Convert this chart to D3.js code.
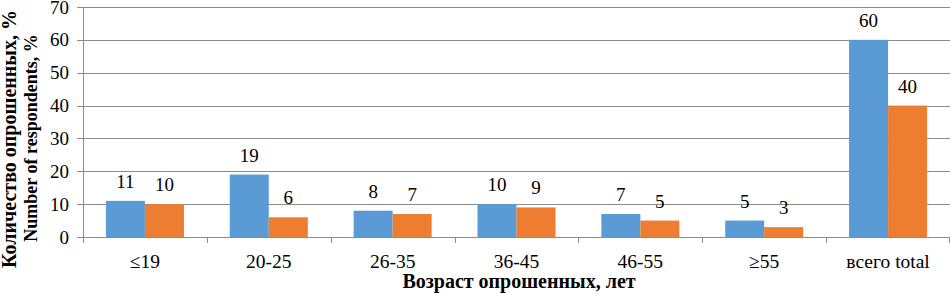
<!DOCTYPE html>
<html>
<head>
<meta charset="UTF-8">
<title>Возраст опрошенных</title>
<script src="https://d3js.org/d3.v7.min.js"></script>
<style>
    body { margin: 0; background: #fff; }
    .grid line { stroke: #8c8c8c; stroke-width: 1; shape-rendering: crispEdges; }
    .axis path, .axis line { stroke: #8c8c8c; shape-rendering: crispEdges; }
</style>
</head>
<body>
<svg></svg>
<script>
    var categories = ["\u226419", "20-25", "26-35", "36-45", "46-55", "\u226555", "всего total"];
    var series1 = [11, 19, 8, 10, 7, 5, 60];
    var series2 = [10, 6, 7, 9, 5, 3, 40];
    var yTicks = [0, 10, 20, 30, 40, 50, 60, 70];
    var colors = ["#5b9bd5", "#ed7d31"];
    var fontName = "'Liberation Serif'";

    var w = 951, h = 293;
    var padding = { top: 7, right: 1, bottom: 56, left: 83 };

    var svg = d3.select("svg").attr("width", w).attr("height", h);

    var x = d3.scaleBand().domain(categories).range([padding.left, w - padding.right]);
    var y = d3.scaleLinear().domain([0, 70]).range([h - padding.bottom, padding.top]);

    // gridlines
    svg.append("g").attr("class", "grid")
        .selectAll("line").data(yTicks.slice(1)).enter().append("line")
        .attr("x1", padding.left).attr("x2", w - padding.right)
        .attr("y1", d => Math.round(y(d)) + 0.5).attr("y2", d => Math.round(y(d)) + 0.5);

    // y axis
    var yAxis = d3.axisLeft(y).tickValues(yTicks).tickSize(6).tickPadding(8);
    var gy = svg.append("g").attr("class", "axis")
        .attr("transform", "translate(" + padding.left + ",0)")
        .call(yAxis);
    gy.selectAll("text").style("font-family", fontName).style("font-size", "19px");

    var bw = x.bandwidth() * 0.315;
    var data = categories.map((c, i) => ({ c: c, v: [series1[i], series2[i]] }));

    var groups = svg.append("g").selectAll("g").data(data).enter().append("g");
    [0, 1].forEach(k => {
        groups.append("rect")
            .attr("x", d => x(d.c) + x.bandwidth() / 2 - bw + k * bw)
            .attr("y", d => y(d.v[k]))
            .attr("width", bw)
            .attr("height", d => y(0) - y(d.v[k]))
            .attr("fill", colors[k]);
        groups.append("text")
            .attr("x", d => x(d.c) + x.bandwidth() / 2 - bw / 2 + k * bw)
            .attr("y", d => y(d.v[k]) - 13)
            .attr("text-anchor", "middle")
            .style("font-family", fontName)
            .style("font-size", "19px")
            .text(d => d.v[k]);
    });

    // x axis
    var xAxis = d3.axisBottom(x).tickSize(0).tickPadding(17);
    var gx = svg.append("g").attr("class", "axis")
        .attr("transform", "translate(0," + (y(0)) + ")")
        .call(xAxis);
    gx.select(".domain").remove();
    gx.append("line").attr("x1", padding.left).attr("x2", w - padding.right)
        .attr("y1", 0.5).attr("y2", 0.5);
    gx.selectAll(".sep").data(categories).enter().append("line")
        .attr("x1", d => Math.round(x(d)) + 0.5).attr("x2", d => Math.round(x(d)) + 0.5)
        .attr("y1", 0).attr("y2", 6);
    gx.append("line")
        .attr("x1", w - padding.right - 0.5).attr("x2", w - padding.right - 0.5)
        .attr("y1", 0).attr("y2", 6);
    gx.selectAll("text").style("font-family", fontName).style("font-size", "19.5px");

    // axis titles
    svg.append("text")
        .attr("x", 519)
        .attr("y", 288)
        .attr("text-anchor", "middle")
        .style("font-family", fontName)
        .style("font-size", "20px").style("font-weight", "bold")
        .text("Возраст опрошенных, лет");

    svg.append("text")
        .attr("transform", "translate(16,139) rotate(-90)")
        .attr("text-anchor", "middle")
        .style("font-family", fontName)
        .style("font-size", "20px").style("font-weight", "bold")
        .text("Количество опрошенных, %");
    svg.append("text")
        .attr("transform", "translate(37,138) rotate(-90)")
        .attr("text-anchor", "middle")
        .style("font-family", fontName)
        .style("font-size", "18px").style("font-weight", "bold")
        .text("Number of respondents, %");
</script>
</body>
</html>
